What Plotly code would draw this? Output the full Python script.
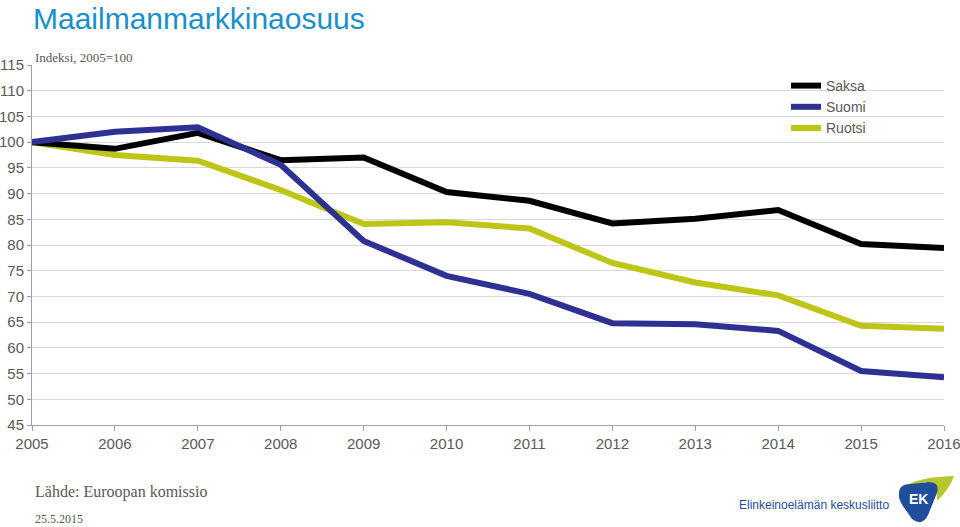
"""Maailmanmarkkinaosuus – Saksa, Suomi, Ruotsi (indeksi 2005=100)."""
import plotly.graph_objects as go

YEARS = list(range(2005, 2017))
SAKSA = [100, 98.7, 101.8, 96.5, 97.0, 90.3, 88.6, 84.2, 85.1, 86.8, 80.2, 79.4]
SUOMI = [100, 102.0, 102.9, 95.6, 80.8, 74.0, 70.5, 64.8, 64.6, 63.3, 55.5, 54.3]
RUOTSI = [100, 97.5, 96.4, 90.7, 84.1, 84.4, 83.2, 76.5, 72.7, 70.2, 64.3, 63.7]
Y_TICKS = list(range(45, 120, 5))

BLACK, BLUE, LIME = "#000000", "#2E3192", "#BDC516"
EK_BLUE, EK_GREEN = "#1F4E9A", "#B5C72A"
GREY = "#595959"
W, H = 960, 527
L, R, T, B = 32, 16, 65, 102


def px(x, y):
    """pixel -> paper coords"""
    return (x - L) / (W - L - R), (H - B - y) / (H - T - B)


def px_path(parts):
    """[('M', x, y), ('Q', x1, y1, x2, y2), ...] pikseleinä -> svg-polku paperikoordinaateissa"""
    out = []
    for cmd, *nums in parts:
        pts = []
        for i in range(0, len(nums), 2):
            a, b = px(nums[i], nums[i + 1])
            pts.append(f"{a:.4f},{b:.4f}")
        out.append(cmd + " " + " ".join(pts))
    return " ".join(out) + " Z"


fig = go.Figure()
for name, vals, col, rank in [("Ruotsi", RUOTSI, LIME, 3), ("Saksa", SAKSA, BLACK, 1),
                              ("Suomi", SUOMI, BLUE, 2)]:
    fig.add_trace(go.Scatter(x=YEARS, y=vals, name=name, mode="lines", legendrank=rank,
                             line=dict(color=col, width=6)))

fig.update_layout(
    width=W, height=H, paper_bgcolor="white", plot_bgcolor="white",
    margin=dict(l=L, r=R, t=T, b=B),
    font=dict(family="Liberation Sans, Arial", size=14, color=GREY),
    legend=dict(x=px(786, 0)[0], y=px(0, 70)[1], xanchor="left", yanchor="top",
                bgcolor="rgba(0,0,0,0)", font=dict(size=14, color=GREY), tracegroupgap=0,
                itemwidth=30),
    showlegend=True,
)
fig.update_xaxes(range=[2005, 2016], tickvals=YEARS, showgrid=False, showline=True,
                 linecolor="#A0A0A0", linewidth=1, ticks="outside", ticklen=5,
                 tickcolor="#A0A0A0", tickfont=dict(size=15, color=GREY), zeroline=False,
                 automargin=False, ticklabeloverflow="allow")
fig.update_yaxes(range=[45, 115], tickvals=Y_TICKS, showgrid=True, gridcolor="#D9D9D9",
                 showline=True, linecolor="#A0A0A0", ticks="outside", ticklen=4,
                 tickcolor="#A0A0A0", tickfont=dict(size=15, color=GREY), zeroline=False,
                 automargin=False, ticklabeloverflow="allow")

# selitteen valkoinen tausta katkaisee vain ruudukon
x0, y0 = px(777, 135)
x1, y1 = px(897, 70)
fig.add_shape(type="rect", xref="paper", yref="paper", x0=x0, y0=y0, x1=x1, y1=y1,
              fillcolor="white", line_width=0, layer="between")

# otsikot ja alatunnisteet
x0, y0 = px(31, 0)
fig.add_annotation(text="Maailmanmarkkinaosuus", x=x0, y=y0, xref="paper", yref="paper",
                   xanchor="left", yanchor="top", showarrow=False,
                   font=dict(family="Liberation Sans, Arial", size=30, color="#1A8FC8"))
x0, y0 = px(33, 57)
fig.add_annotation(text="Indeksi, 2005=100", x=x0, y=y0, xref="paper", yref="paper",
                   xanchor="left", yanchor="middle", showarrow=False,
                   font=dict(family="Liberation Serif, Times New Roman", size=13, color=GREY))
x0, y0 = px(33, 492)
fig.add_annotation(text="Lähde: Euroopan komissio", x=x0, y=y0, xref="paper", yref="paper",
                   xanchor="left", yanchor="middle", showarrow=False,
                   font=dict(family="Liberation Serif, Times New Roman", size=16, color=GREY))
x0, y0 = px(33, 519)
fig.add_annotation(text="25.5.2015", x=x0, y=y0, xref="paper", yref="paper",
                   xanchor="left", yanchor="middle", showarrow=False,
                   font=dict(family="Liberation Serif, Times New Roman", size=12, color=GREY))

# EK-logo
x0, y0 = px(891, 505)
fig.add_annotation(text="Elinkeinoelämän keskusliitto", x=x0, y=y0, xref="paper", yref="paper",
                   xanchor="right", yanchor="middle", showarrow=False,
                   font=dict(family="Liberation Sans, Arial", size=12, color=EK_BLUE))
fig.add_shape(type="path", xref="paper", yref="paper", fillcolor=EK_GREEN, line_width=0,
              path=px_path([("M", 901, 489), ("Q", 915, 477, 954, 476), ("Q", 949, 490, 937, 501),
                            ("L", 937, 490), ("Q", 936, 481, 925, 482)]))
fig.add_shape(type="path", xref="paper", yref="paper", fillcolor=EK_BLUE, line_width=0,
              path=px_path([("M", 899, 493), ("Q", 899, 484, 911, 484), ("L", 929, 482),
                            ("Q", 940, 482, 937, 493), ("L", 928, 515), ("Q", 922, 527, 912, 519),
                            ("L", 903, 506), ("Q", 898, 499, 899, 493)]))
x0, y0 = px(918, 499)
fig.add_annotation(text="<b>EK</b>", x=x0, y=y0, xref="paper", yref="paper", showarrow=False,
                   xanchor="center", yanchor="middle",
                   font=dict(family="Liberation Sans, Arial", size=14, color="white"))

# selaimen oletusmarginaali pois, jotta kuva alkaa vasemmasta yläkulmasta
fig.write_html("out.html", config={"displayModeBar": False},
               post_script="document.body.style.margin='0px';")
